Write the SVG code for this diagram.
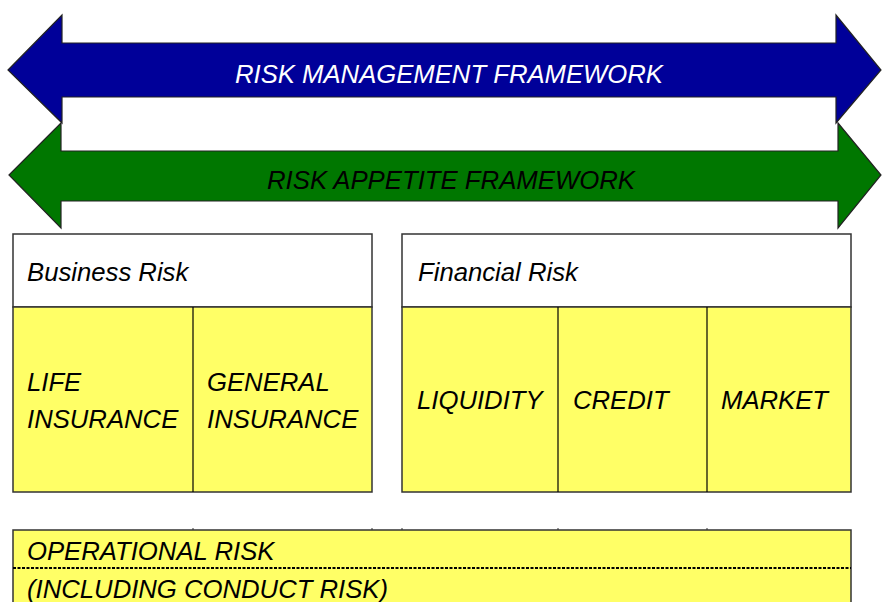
<svg xmlns="http://www.w3.org/2000/svg" width="882" height="602" viewBox="0 0 882 602">
<style>
.t{font-family:"Liberation Sans",Arial,sans-serif;font-style:italic;font-size:25.7px;fill:#000}
.arrow{stroke:#222;stroke-width:1.2}
.box{stroke:#333;stroke-width:1.5}
.div{stroke:#000;stroke-width:1.2}
</style>
<rect width="882" height="602" fill="#fff"/>
<g id="risk-management-framework">
<polygon class="arrow" fill="#000099" points="8,70 62,15 62,43 836,43 836,15 881,70 836,123 836,97 62,97 62,123"/>
<text class="t" x="235" y="83" style="fill:#fff" textLength="428" lengthAdjust="spacingAndGlyphs">RISK MANAGEMENT FRAMEWORK</text>
</g>
<g id="risk-appetite-framework">
<polygon class="arrow" fill="#007700" points="9,175 61,123 61,151 838,151 838,123 881,175 838,228 838,201 61,201 61,228"/>
<text class="t" x="267" y="189" textLength="368" lengthAdjust="spacingAndGlyphs">RISK APPETITE FRAMEWORK</text>
</g>
<g id="business-risk">
<rect class="box" x="13" y="234" width="359" height="73" fill="#fff"/>
<text class="t" x="27" y="281">Business Risk</text>
<rect class="box" x="13" y="307" width="359" height="185" fill="#ffff66"/>
<line class="div" x1="193" y1="307" x2="193" y2="492"/>
<g id="life-insurance"><text class="t" x="27" y="391">LIFE</text><text class="t" x="27" y="428">INSURANCE</text></g>
<g id="general-insurance"><text class="t" x="207" y="391">GENERAL</text><text class="t" x="207" y="428">INSURANCE</text></g>
</g>
<g id="financial-risk">
<rect class="box" x="402" y="234" width="449" height="73" fill="#fff"/>
<text class="t" x="418" y="281">Financial Risk</text>
<rect class="box" x="402" y="307" width="449" height="185" fill="#ffff66"/>
<line class="div" x1="558" y1="307" x2="558" y2="492"/>
<line class="div" x1="707" y1="307" x2="707" y2="492"/>
<g id="liquidity"><text class="t" x="417" y="409">LIQUIDITY</text></g>
<g id="credit"><text class="t" x="573" y="409">CREDIT</text></g>
<g id="market"><text class="t" x="721" y="409">MARKET</text></g>
</g>
<g id="operational-risk">
<rect class="box" x="13" y="530" width="838" height="80" fill="#ffff66"/>
<g stroke="#333" stroke-width="1">
<line x1="193" y1="528" x2="193" y2="530"/><line x1="372" y1="528" x2="372" y2="530"/>
<line x1="402" y1="528" x2="402" y2="530"/><line x1="558" y1="528" x2="558" y2="530"/>
<line x1="707" y1="528" x2="707" y2="530"/>
</g>
<line x1="13" y1="568" x2="851" y2="568" stroke="#000" stroke-width="2" stroke-dasharray="3,1.5"/>
<text class="t" x="27" y="560">OPERATIONAL RISK</text>
<text class="t" x="27" y="598">(INCLUDING CONDUCT RISK)</text>
</g>
<g id="connectors"/>
</svg>
